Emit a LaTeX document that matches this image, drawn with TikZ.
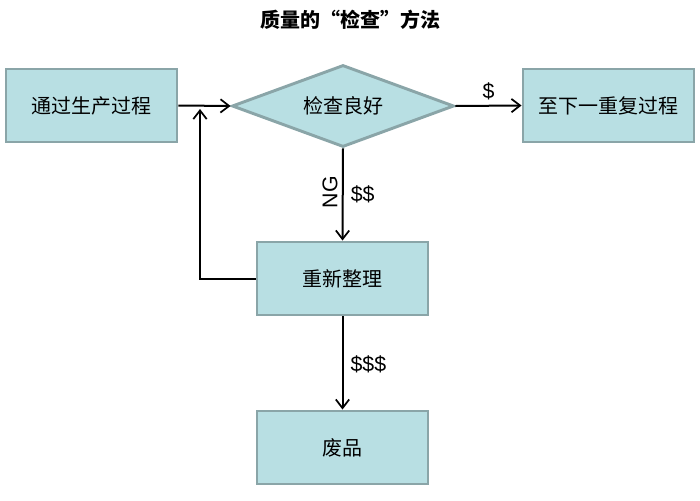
\documentclass[tikz,border=0pt]{standalone}
\usepackage{fontspec}
\setmainfont{Liberation Sans}
\newfontfamily\cjk{Noto Sans CJK SC}
\usetikzlibrary{arrows.meta,shapes.geometric}
\definecolor{boxfill}{HTML}{B8DFE3}
\definecolor{boxline}{HTML}{8AA5A8}
\begin{document}
\begin{tikzpicture}[x=0.75pt,y=-0.75pt,
  box/.style={draw=boxline,fill=boxfill,line width=2.2pt,minimum width=171*0.75pt,minimum height=73*0.75pt,inner sep=0pt,font=\cjk\fontsize{15}{18}\selectfont},
  dia/.style={diamond,draw=boxline,fill=boxfill,line width=2.2pt,aspect=2.7,minimum width=222*0.75pt,minimum height=82*0.75pt,inner sep=0pt,font=\cjk\fontsize{15}{18}\selectfont},
  conn/.style={line width=1.5pt,-{Straight Barb[length=6.5pt,width=10pt,line width=1.3pt]}},
  lbl/.style={font=\fontsize{16}{18}\selectfont}]
\useasboundingbox (0,0) rectangle (700,500);
\node[font=\cjk\bfseries\fontsize{15}{18}\selectfont] (title) at (350,20) {质量的“检查”方法};
\node[box] (prod) at (91.5,105.5) {通过生产过程};
\node[dia] (chk) at (343,106) {检查良好};
\node[box] (next) at (608.5,105.5) {至下一重复过程};
\node[box] (redo) at (342.5,278.5) {重新整理};
\node[box] (waste) at (342.5,447.5) {废品};
\coordinate (back1) at (200,278.5);
\coordinate (back2) at (200,109);
\draw[conn] (prod.east) -- (chk.west);
\draw[conn] (chk.east) -- node[lbl,above=0pt] (l1) {\$} (next.west);
\draw[conn] (chk.south) -- node[lbl,right=2pt,yshift=0pt] (l2) {\$\$} (redo.north);
\node[rotate=90,font=\fontsize{16}{18}\selectfont] (ng) at (330,192) {NG};
\draw[conn] (redo.south) -- node[lbl,right=2pt,yshift=-1pt] (l3) {\$\$\$} (waste.north);
\draw[conn] (redo.west) -- (back1) -- (back2);
\end{tikzpicture}
\end{document}
